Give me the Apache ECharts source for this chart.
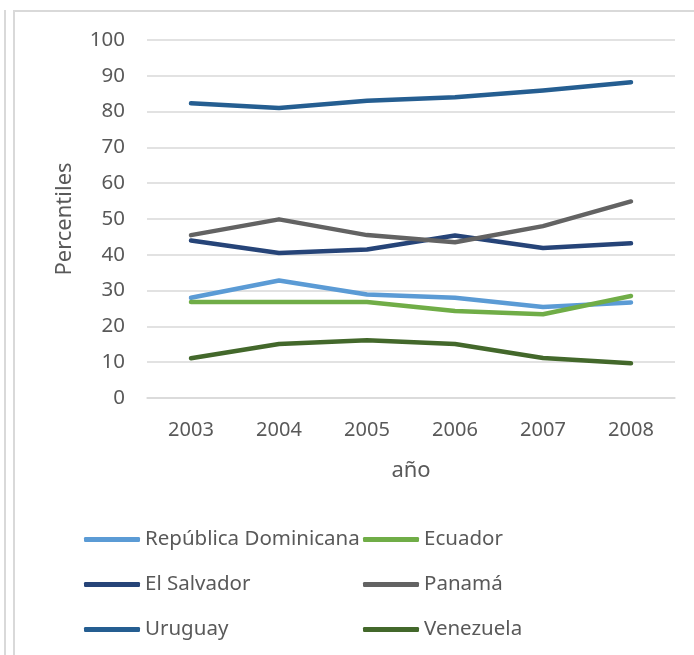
<!DOCTYPE html>
<html>
<head>
<meta charset="utf-8">
<script src="https://cdn.jsdelivr.net/npm/echarts@6/dist/echarts.min.js"></script>
<style>
  html, body { margin: 0; padding: 0; background: #fff; }
  #chart { width: 694px; height: 655px; }
</style>
</head>
<body>
<div id="chart"></div>
<script>
const years = ["2003", "2004", "2005", "2006", "2007", "2008"];
const yTicks = [0, 100, 10];

const repDominicana = [28, 32.8, 28.9, 28, 25.4, 26.7];
const ecuador = [26.8, 26.8, 26.8, 24.3, 23.4, 28.5];
const elSalvador = [44, 40.5, 41.5, 45.4, 41.9, 43.2];
const panama = [45.5, 49.9, 45.5, 43.5, 48, 54.9];
const uruguay = [82.3, 81, 83, 84, 85.9, 88.2];
const venezuela = [11.1, 15.1, 16.1, 15.1, 11.2, 9.7];

const seriesDefs = [
  { name: "República Dominicana", data: repDominicana, color: "#5B9BD5" },
  { name: "Ecuador", data: ecuador, color: "#70AD47" },
  { name: "El Salvador", data: elSalvador, color: "#264478" },
  { name: "Panamá", data: panama, color: "#636363" },
  { name: "Uruguay", data: uruguay, color: "#255E91" },
  { name: "Venezuela", data: venezuela, color: "#43682B" },
];

const textColor = "#595959";
const fontFamily = "'Noto Sans', sans-serif";

const legendBase = {
  orient: "vertical",
  icon: "roundRect",
  itemWidth: 56,
  itemHeight: 5,
  itemGap: 24,
  selectedMode: false,
  textStyle: { color: textColor, fontSize: 20.5, fontFamily: fontFamily },
};

const chart = echarts.init(document.getElementById("chart"));
chart.setOption({
  backgroundColor: "#ffffff",
  animation: false,
  textStyle: { fontFamily: fontFamily },
  graphic: [
    { type: "line", shape: { x1: 5, y1: 10, x2: 5, y2: 655 }, style: { stroke: "#d9d9d9", lineWidth: 2 } },
    { type: "line", shape: { x1: 14, y1: 11, x2: 14, y2: 655 }, style: { stroke: "#d9d9d9", lineWidth: 2 } },
    { type: "line", shape: { x1: 13, y1: 11, x2: 694, y2: 11 }, style: { stroke: "#d9d9d9", lineWidth: 2 } },
  ],
  grid: { left: 147, right: 19, top: 40, bottom: 257, containLabel: false },
  legend: [
    Object.assign({}, legendBase, {
      left: 79, top: 524,
      data: [seriesDefs[0].name, seriesDefs[2].name, seriesDefs[4].name],
    }),
    Object.assign({}, legendBase, {
      left: 358, top: 524,
      data: [seriesDefs[1].name, seriesDefs[3].name, seriesDefs[5].name],
    }),
  ],
  xAxis: {
    type: "category",
    data: years,
    boundaryGap: true,
    name: "año",
    nameLocation: "middle",
    nameGap: 62,
    nameTextStyle: { color: textColor, fontSize: 22 },
    axisLine: { lineStyle: { color: "#d9d9d9", width: 1.5 } },
    axisTick: { show: false },
    axisLabel: { color: textColor, fontSize: 20, margin: 22 },
  },
  yAxis: {
    type: "value",
    min: yTicks[0],
    max: yTicks[1],
    interval: yTicks[2],
    name: "Percentiles",
    nameLocation: "middle",
    nameGap: 71,
    nameRotate: 90,
    nameTextStyle: { color: textColor, fontSize: 22 },
    axisLine: { show: false },
    axisTick: { show: false },
    axisLabel: { color: textColor, fontSize: 20.5, margin: 22 },
    splitLine: { lineStyle: { color: "#d9d9d9", width: 1.5 } },
  },
  series: seriesDefs.map((s) => ({
    name: s.name,
    type: "line",
    data: s.data,
    symbol: "none",
    color: s.color,
    lineStyle: { color: s.color, width: 4.5, cap: "round", join: "round" },
  })),
});
</script>
</body>
</html>
